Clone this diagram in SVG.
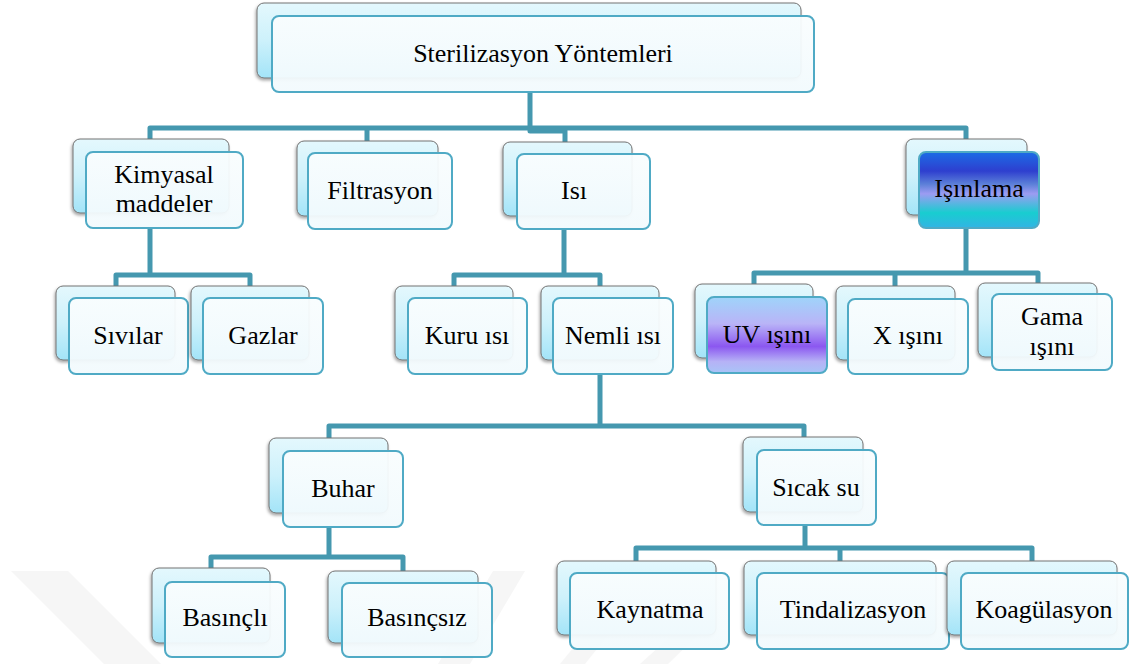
<svg xmlns="http://www.w3.org/2000/svg" width="1134" height="664" viewBox="0 0 1134 664">
<defs>
<linearGradient id="gBack" x1="0" y1="0" x2="0" y2="1">
<stop offset="0" stop-color="#e4f8fd"/>
<stop offset="0.5" stop-color="#cdf1fb"/>
<stop offset="1" stop-color="#a3e4f8"/>
</linearGradient>
<linearGradient id="gFront" x1="0" y1="0" x2="0" y2="1">
<stop offset="0" stop-color="#f9fdfe"/>
<stop offset="1" stop-color="#f2fafd"/>
</linearGradient>
<linearGradient id="gIsin" x1="0" y1="0" x2="0" y2="1">
<stop offset="0" stop-color="#1c6ce6"/>
<stop offset="0.25" stop-color="#2e3fcf"/>
<stop offset="0.42" stop-color="#5b7fd8"/>
<stop offset="0.55" stop-color="#9c9cf2"/>
<stop offset="0.8" stop-color="#18cdd0"/>
<stop offset="1" stop-color="#32b4e4"/>
</linearGradient>
<linearGradient id="gUV" x1="0" y1="0" x2="0" y2="1">
<stop offset="0" stop-color="#9fd4fa"/>
<stop offset="0.35" stop-color="#b9b4f7"/>
<stop offset="0.65" stop-color="#8b57f0"/>
<stop offset="0.85" stop-color="#b6b2f6"/>
<stop offset="1" stop-color="#a8c4f7"/>
</linearGradient>
<filter id="sh" x="-10%" y="-10%" width="125%" height="130%">
<feDropShadow dx="-1" dy="2" stdDeviation="1.6" flood-color="#000" flood-opacity="0.35"/>
</filter>
</defs>
<style>
.back{fill:url(#gBack);stroke:#727272;stroke-width:1;filter:url(#sh)}
.front{fill:url(#gFront);fill-opacity:0.95;stroke:#4faac5;stroke-width:2}
.conn{fill:none;stroke:#4598af;stroke-width:5;stroke-linejoin:round;stroke-linecap:butt}
text{font-family:"Liberation Serif","Times New Roman",serif;font-size:26px;fill:#000;text-anchor:middle}
.wm{fill:#f6f6f6}
</style>
<rect width="1134" height="664" fill="#fff"/>
<g id="watermark">
<polygon class="wm" points="11,571 68,571 161,664 104,664"/>
<polygon class="wm" points="493,571 525,571 470,664 438,664"/>
<polygon class="wm" points="560,664 596,620 620,620 585,664"/>
<polygon class="wm" points="640,664 680,628 705,628 668,664"/>
</g>
<g id="connectors">
<path class="conn" d="M530,92 V128 M150,141 V128 H966 V141 M367,141 V128 M530,128 V131 H565 V142"/>
<path class="conn" d="M150,228 V275 M116,287 V275 H250 V287"/>
<path class="conn" d="M564,229 V275 M454,287 V275 H600 V287"/>
<path class="conn" d="M966,228 V273 M754,285 V273 H1038 V284 M895,273 V287"/>
<path class="conn" d="M600,374 V426 M329,439 V426 H804 V438"/>
<path class="conn" d="M329,527 V557 M211,569 V557 H403 V571"/>
<path class="conn" d="M805,525 V548 M636,562 V548 H1032 V562 M840,548 V562"/>
</g>
<g id="n-root">
<rect class="back" x="257" y="3" width="544" height="75" rx="7"/>
<rect class="front" x="272" y="16" width="542" height="76" rx="7"/>
<text x="543" y="62">Sterilizasyon Yöntemleri</text>
</g>
<g id="n-kimyasal">
<rect class="back" x="73" y="139" width="156" height="74" rx="7"/>
<rect class="front" x="86" y="152" width="157" height="76" rx="7"/>
<text x="164" y="183">Kimyasal</text>
<text x="164" y="212">maddeler</text>
</g>
<g id="n-filtrasyon">
<rect class="back" x="297" y="141" width="141" height="75" rx="7"/>
<rect class="front" x="308" y="153" width="144" height="76" rx="7"/>
<text x="380" y="199">Filtrasyon</text>
</g>
<g id="n-isi">
<rect class="back" x="503" y="142" width="129" height="74" rx="7"/>
<rect class="front" x="517" y="154" width="133" height="75" rx="7"/>
<text x="574" y="199">Isı</text>
</g>
<g id="n-isinlama">
<rect class="back" x="906" y="139" width="121" height="76" rx="7"/>
<rect x="919" y="152" width="120" height="76" rx="7" fill="url(#gIsin)" stroke="#4faac5" stroke-width="2"/>
<text x="979" y="197">Işınlama</text>
</g>
<g id="n-sivilar">
<rect class="back" x="56" y="286" width="119" height="74" rx="7"/>
<rect class="front" x="69" y="298" width="119" height="76" rx="7"/>
<text x="128" y="344">Sıvılar</text>
</g>
<g id="n-gazlar">
<rect class="back" x="191" y="286" width="118" height="74" rx="7"/>
<rect class="front" x="203" y="298" width="120" height="76" rx="7"/>
<text x="263" y="344">Gazlar</text>
</g>
<g id="n-kuru">
<rect class="back" x="395" y="286" width="118" height="74" rx="7"/>
<rect class="front" x="408" y="298" width="119" height="76" rx="7"/>
<text x="467" y="344">Kuru ısı</text>
</g>
<g id="n-nemli">
<rect class="back" x="541" y="286" width="118" height="74" rx="7"/>
<rect class="front" x="553" y="298" width="120" height="76" rx="7"/>
<text x="613" y="344">Nemli ısı</text>
</g>
<g id="n-uv">
<rect class="back" x="695" y="284" width="118" height="74" rx="7"/>
<rect x="707" y="297" width="120" height="76" rx="7" fill="url(#gUV)" stroke="#4faac5" stroke-width="2"/>
<text x="767" y="343">UV ışını</text>
</g>
<g id="n-x">
<rect class="back" x="836" y="286" width="119" height="74" rx="7"/>
<rect class="front" x="848" y="299" width="120" height="75" rx="7"/>
<text x="908" y="344">X ışını</text>
</g>
<g id="n-gama">
<rect class="back" x="978" y="283" width="119" height="74" rx="7"/>
<rect class="front" x="992" y="294" width="120" height="76" rx="7"/>
<text x="1052" y="325">Gama</text>
<text x="1052" y="355">ışını</text>
</g>
<g id="n-buhar">
<rect class="back" x="269" y="438" width="119" height="75" rx="7"/>
<rect class="front" x="283" y="451" width="120" height="76" rx="7"/>
<text x="343" y="497">Buhar</text>
</g>
<g id="n-sicaksu">
<rect class="back" x="743" y="437" width="120" height="75" rx="7"/>
<rect class="front" x="757" y="450" width="119" height="75" rx="7"/>
<text x="816" y="496">Sıcak su</text>
</g>
<g id="n-basincli">
<rect class="back" x="152" y="568" width="118" height="75" rx="7"/>
<rect class="front" x="165" y="582" width="120" height="75" rx="7"/>
<text x="225" y="626">Basınçlı</text>
</g>
<g id="n-basincsiz">
<rect class="back" x="328" y="571" width="150" height="72" rx="7"/>
<rect class="front" x="342" y="583" width="150" height="74" rx="7"/>
<text x="417" y="626">Basınçsız</text>
</g>
<g id="n-kaynatma">
<rect class="back" x="557" y="561" width="159" height="74" rx="7"/>
<rect class="front" x="570" y="573" width="159" height="76" rx="7"/>
<text x="650" y="618">Kaynatma</text>
</g>
<g id="n-tindal">
<rect class="back" x="744" y="561" width="192" height="74" rx="7"/>
<rect class="front" x="757" y="573" width="192" height="76" rx="7"/>
<text x="853" y="618">Tindalizasyon</text>
</g>
<g id="n-koag">
<rect class="back" x="947" y="561" width="170" height="74" rx="7"/>
<rect class="front" x="961" y="573" width="167" height="76" rx="7"/>
<text x="1044" y="618">Koagülasyon</text>
</g>
</svg>
